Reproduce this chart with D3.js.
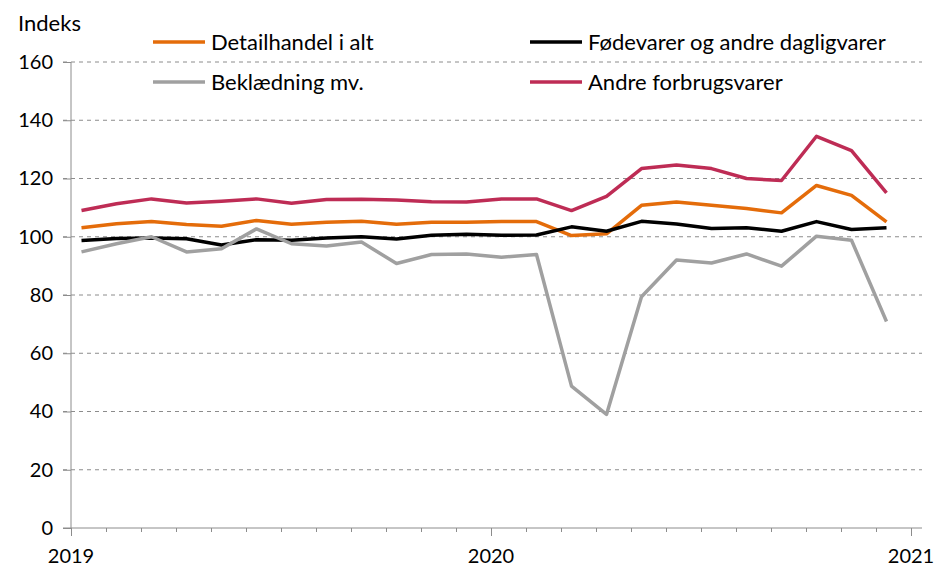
<!DOCTYPE html>
<html>
<head>
<meta charset="utf-8">
<script src="https://cdn.jsdelivr.net/npm/d3@7"></script>
<style>
  body { margin: 0; background: #fff; }
  text { font-family: Lato, "Open Sans", sans-serif; fill: #000; }
</style>
</head>
<body>
<div id="chart"></div>
<script>
// Data: monthly index, Jan 2019 - Dec 2020
var months = d3.range(24);
var yearLabels = ["2019", "2020", "2021"];
var yTicks = [0, 20, 40, 60, 80, 100, 120, 140, 160];

var detailhandel = [103.1, 104.5, 105.2, 104.2, 103.6, 105.6, 104.3, 105.0, 105.3, 104.3, 105.0, 105.0,
                    105.2, 105.2, 100.4, 101.0, 110.8, 111.9, 110.8, 109.7, 108.2, 117.6, 114.2, 105.1];
var foedevarer = [98.7, 99.4, 99.6, 99.3, 97.2, 99.0, 98.8, 99.6, 100.0, 99.2, 100.5, 100.9,
                  100.5, 100.6, 103.4, 101.9, 105.3, 104.4, 102.8, 103.1, 101.9, 105.2, 102.5, 103.1];
var beklaedning = [94.8, 97.6, 100.0, 94.8, 95.9, 102.7, 97.6, 96.8, 98.2, 90.8, 93.9, 94.1,
                   93.0, 93.9, 48.7, 39.0, 79.4, 92.0, 91.0, 94.1, 89.9, 100.2, 98.8, 70.9];
var andre = [109.0, 111.3, 113.0, 111.6, 112.2, 113.0, 111.5, 112.8, 112.9, 112.6, 112.0, 111.9,
             113.0, 113.0, 109.0, 113.9, 123.4, 124.6, 123.4, 120.0, 119.3, 134.5, 129.6, 115.1];

var series = [
  { name: "Detailhandel i alt", values: detailhandel, color: "#E46C0A" },
  { name: "Fødevarer og andre dagligvarer", values: foedevarer, color: "#000000" },
  { name: "Beklædning mv.", values: beklaedning, color: "#A0A0A0" },
  { name: "Andre forbrugsvarer", values: andre, color: "#BE2C55" }
];

var svgWidth = 937, svgHeight = 568;
// plot edges ("top" is reserved on window, so use a margin object)
var plot = { left: 71, right: 911, top: 62, bottom: 528 };

var svg = d3.select("#chart").append("svg")
  .attr("width", svgWidth)
  .attr("height", svgHeight);

// scales (x in months since Jan 2019)
var x = d3.scaleLinear().domain([0, 24]).range([plot.left, plot.right]);
var y = d3.scaleLinear().domain([0, 160]).range([plot.bottom, plot.top]);
var pointOffset = 0.3;

// gridlines
svg.append("g")
  .selectAll("line")
  .data(yTicks.filter(d => d > 0))
  .enter().append("line")
  .attr("x1", plot.left - 8).attr("x2", 922)
  .attr("y1", d => y(d)).attr("y2", d => y(d))
  .attr("stroke", "#8c8c8c")
  .attr("stroke-width", 1)
  .attr("stroke-dasharray", "4,4");

// y axis
var yAxis = svg.append("g")
  .attr("transform", `translate(${plot.left},0)`)
  .call(d3.axisLeft(y).tickValues(yTicks).tickSize(8).tickPadding(10));
yAxis.selectAll("line, path").attr("stroke", "#8c8c8c");
yAxis.select(".domain").attr("d", `M0,${plot.top}V${plot.bottom}`);
yAxis.selectAll("text").style("font-size", "20px").style("font-family", "Lato, sans-serif").attr("fill", "#000");

// x axis
var xAxis = svg.append("g")
  .attr("transform", `translate(0,${plot.bottom})`)
  .call(d3.axisBottom(x).tickValues(d3.range(0, 25)).tickSize(4).tickFormat(""));
xAxis.selectAll("line, path").attr("stroke", "#8c8c8c");
xAxis.select(".domain").attr("d", `M${plot.left - 8},0H922`);
xAxis.selectAll(".tick line").filter(d => d % 12 === 0).attr("y2", 8);

svg.append("g")
  .selectAll("text")
  .data(yearLabels)
  .enter().append("text")
  .attr("x", (d, i) => x(i * 12))
  .attr("y", 563)
  .attr("text-anchor", "middle")
  .style("font-size", "20px")
  .text(d => d);

// lines
var line = d3.line()
  .x((d, i) => x(months[i] + pointOffset))
  .y(d => y(d));

svg.append("g")
  .selectAll("path")
  .data(series)
  .enter().append("path")
  .attr("d", d => line(d.values))
  .attr("fill", "none")
  .attr("stroke", d => d.color)
  .attr("stroke-width", 3.5)
  .attr("stroke-linejoin", "round");

// y title
svg.append("text")
  .attr("x", 18).attr("y", 31)
  .style("font-size", "22px")
  .text("Indeks");

// legend
var legendPos = [[153, 42], [530, 42], [153, 82], [530, 82]];
var legend = svg.append("g")
  .selectAll("g")
  .data(series)
  .enter().append("g")
  .attr("transform", (d, i) => `translate(${legendPos[i][0]},${legendPos[i][1]})`);

legend.append("line")
  .attr("x1", 0).attr("x2", 52)
  .attr("stroke", d => d.color)
  .attr("stroke-width", 3.5);

legend.append("text")
  .attr("x", 58).attr("y", 8)
  .style("font-size", "22px")
  .text(d => d.name);
</script>
</body>
</html>
